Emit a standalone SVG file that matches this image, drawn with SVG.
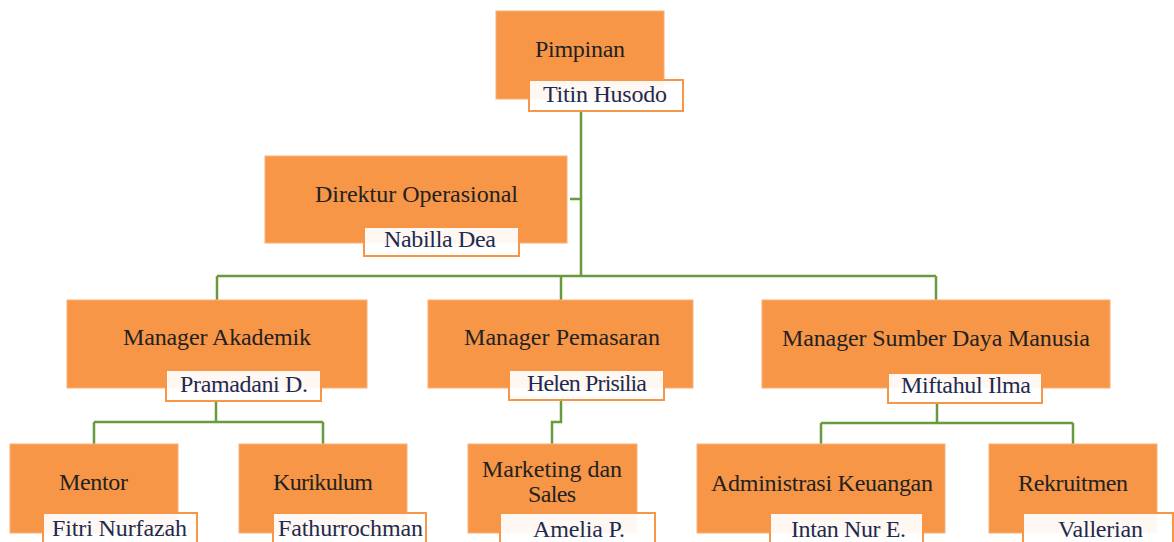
<svg xmlns="http://www.w3.org/2000/svg" width="1174" height="542" viewBox="0 0 1174 542">
<style>
.box{fill:#f79646;stroke:#fbb07a;stroke-width:1}
.nm{fill:#ffffff;fill-opacity:0.93;stroke:#f79646;stroke-width:2}
.t{font-family:"Liberation Serif","Times New Roman",serif;font-size:24px;fill:#222222;text-anchor:middle}
.n{font-family:"Liberation Serif","Times New Roman",serif;font-size:24px;fill:#1f2a50;text-anchor:middle}
.c{fill:none;stroke:#6a9a3e;stroke-width:2.5}
</style>
<rect width="1174" height="542" fill="#ffffff"/>
<g id="connectors">
<path class="c" d="M581,111 V276 M570,199 H581 M217,276 H936 M217,276 V300 M561,276 V300 M936,276 V300"/>
<path class="c" d="M216,401 V422 M94,422 H323 M94,422 V444 M323,422 V444"/>
<path class="c" d="M561,400 V422 H552 V444"/>
<path class="c" d="M937,403 V423 M821,423 H1073 M821,423 V444 M1073,423 V444"/>
</g>
<g id="pimpinan">
<rect class="box" x="496" y="11" width="168" height="88"/>
<text class="t" x="580" y="57" textLength="90">Pimpinan</text>
<rect class="nm" x="529" y="80" width="154" height="31"/>
<text class="n" x="605" y="102" textLength="124">Titin Husodo</text>
</g>
<g id="direktur">
<rect class="box" x="265" y="156" width="302" height="87"/>
<text class="t" x="416.5" y="202" textLength="203">Direktur Operasional</text>
<rect class="nm" x="364" y="227" width="155" height="29"/>
<text class="n" x="440" y="247" textLength="112">Nabilla Dea</text>
</g>
<g id="manager-akademik">
<rect class="box" x="67" y="300" width="300" height="88"/>
<text class="t" x="217" y="345" textLength="188">Manager Akademik</text>
<rect class="nm" x="166" y="370" width="155" height="31"/>
<text class="n" x="244" y="392" textLength="128">Pramadani D.</text>
</g>
<g id="manager-pemasaran">
<rect class="box" x="428" y="300" width="265" height="88"/>
<text class="t" x="562" y="345" textLength="196">Manager Pemasaran</text>
<rect class="nm" x="509" y="370" width="155" height="30"/>
<text class="n" x="587" y="391" textLength="120">Helen Prisilia</text>
</g>
<g id="manager-sdm">
<rect class="box" x="762" y="300" width="348" height="88"/>
<text class="t" x="936" y="346" textLength="308">Manager Sumber Daya Manusia</text>
<rect class="nm" x="888" y="373" width="154" height="30"/>
<text class="n" x="966" y="393" textLength="130">Miftahul Ilma</text>
</g>
<g id="mentor">
<rect class="box" x="10" y="444" width="168" height="89"/>
<text class="t" x="93.5" y="490" textLength="69">Mentor</text>
<rect class="nm" x="43" y="513" width="154" height="40"/>
<text class="n" x="119.5" y="536" textLength="135">Fitri Nurfazah</text>
</g>
<g id="kurikulum">
<rect class="box" x="239" y="444" width="168" height="89"/>
<text class="t" x="323" y="490" textLength="100">Kurikulum</text>
<rect class="nm" x="273" y="513" width="153" height="40"/>
<text class="n" x="350.5" y="536" textLength="145">Fathurrochman</text>
</g>
<g id="marketing">
<rect class="box" x="468" y="444" width="169" height="89"/>
<text class="t" x="552" y="477" textLength="140">Marketing dan</text>
<text class="t" x="552" y="502" textLength="48">Sales</text>
<rect class="nm" x="500" y="513" width="155" height="40"/>
<text class="n" x="579" y="537" textLength="92">Amelia P.</text>
</g>
<g id="administrasi">
<rect class="box" x="697" y="444" width="248" height="89"/>
<text class="t" x="822" y="491" textLength="222">Administrasi Keuangan</text>
<rect class="nm" x="770" y="513" width="153" height="40"/>
<text class="n" x="848.5" y="537" textLength="115">Intan Nur E.</text>
</g>
<g id="rekruitmen">
<rect class="box" x="989" y="444" width="168" height="89"/>
<text class="t" x="1073" y="491" textLength="110">Rekruitmen</text>
<rect class="nm" x="1023" y="513" width="150" height="40"/>
<text class="n" x="1100.5" y="537" textLength="85">Vallerian</text>
</g>
</svg>
